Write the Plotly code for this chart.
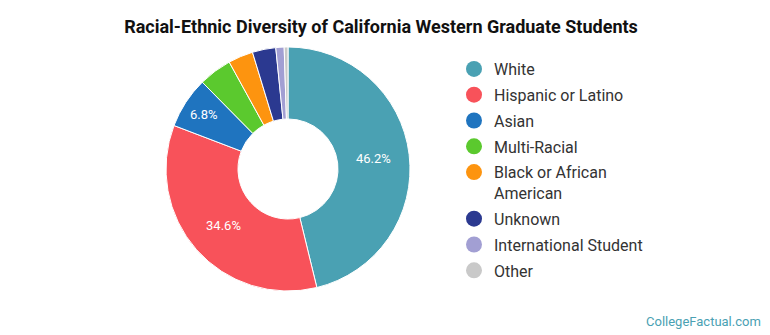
import plotly.graph_objects as go

labels = ["White", "Hispanic or Latino", "Asian", "Multi-Racial",
          "Black or African American", "Unknown", "International Student", "Other"]
legend_labels = ["White", "Hispanic or Latino", "Asian", "Multi-Racial",
                 "Black or African<br>American", "Unknown", "International Student", "Other"]
values = [46.2, 34.6, 6.8, 4.4, 3.3, 3.1, 1.1, 0.5]
colors = ["#4aa1b3", "#f8525a", "#1f74bf", "#5bc92e", "#fd940f",
          "#2b3990", "#a29fd3", "#c9c9c9"]
shown_labels = ["46.2%", "34.6%", "6.8%", "", "", "", "", ""]

W, H = 770, 335
cx, cy, r = 288, 169, 122

fig = go.Figure()
fig.add_trace(go.Pie(
    labels=labels, values=values, sort=False, direction="clockwise", rotation=0,
    hole=0.41,
    marker=dict(colors=colors, line=dict(color="white", width=1)),
    text=shown_labels, texttemplate="%{text}", textposition="inside",
    insidetextfont=dict(color="white", size=13, family="Roboto"),
    insidetextorientation="horizontal",
    showlegend=False, hoverinfo="label+percent",
    domain=dict(x=[(cx - r) / W, (cx + r) / W], y=[(H - cy - r) / H, (H - cy + r) / H]),
))

for i, (lab, col) in enumerate(zip(legend_labels, colors)):
    fig.add_trace(go.Scatter(
        x=[None], y=[None], mode="markers", name=lab, legendgroup=f"g{i}",
        marker=dict(color=col, size=16, symbol="circle"),
        showlegend=True,
    ))

fig.update_layout(
    width=W, height=H,
    margin=dict(l=0, r=0, t=0, b=0),
    paper_bgcolor="white", plot_bgcolor="white",
    xaxis=dict(visible=False), yaxis=dict(visible=False),
    font=dict(family="Roboto", color="#333333"),
    title=dict(text="<b>Racial-Ethnic Diversity of California Western Graduate Students</b>",
               x=381 / W, xanchor="center", y=1 - 27 / H, yanchor="middle",
               font=dict(size=18, color="#111111", family="Roboto")),
    legend=dict(x=454 / W, xanchor="left", y=1 - 52 / H, yanchor="top",
                font=dict(size=16, color="#333333", family="Roboto"),
                bgcolor="rgba(0,0,0,0)", tracegroupgap=2, valign="top"),
    annotations=[dict(text="CollegeFactual.com", x=763 / W, xanchor="right",
                      y=1 - 321 / H, yanchor="middle", xref="paper", yref="paper",
                      showarrow=False, font=dict(size=13, color="#4aa1b3", family="Roboto"))],
)

fig.write_html("out.html")
